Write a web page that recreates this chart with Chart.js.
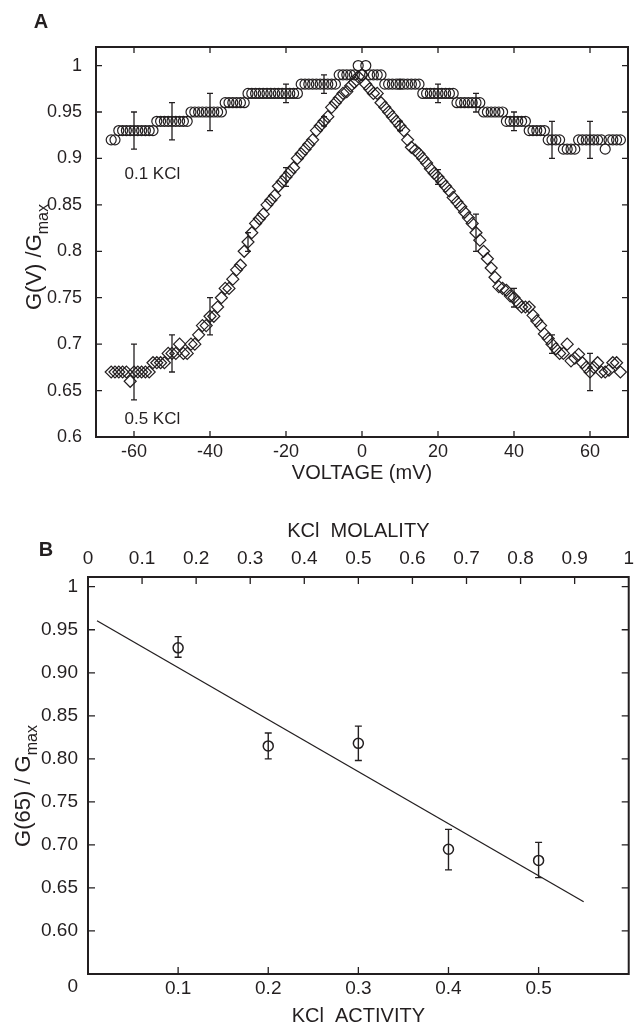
<!DOCTYPE html>
<html>
<head>
<meta charset="utf-8">
<script src="https://cdn.jsdelivr.net/npm/chart.js@4.4.0/dist/chart.umd.min.js"></script>
<style>
    html, body { margin: 0; padding: 0; background: #fff; }
    #wrap { position: relative; width: 641px; height: 1026px; }
    #chartA { position: absolute; left: 0; top: 0; width: 641px; height: 500px; }
    #chartB { position: absolute; left: 0; top: 500px; width: 641px; height: 526px; }
</style>
</head>
<body>
<div id="wrap">
    <canvas id="chartA" width="641" height="500"></canvas>
    <canvas id="chartB" width="641" height="526"></canvas>
</div>
<script>
// ---- Panel A: G(V)/Gmax against voltage ----
const voltage = [
    -66, -65, -64, -63, -62, -61, -60, -59, -58, -57, -56, -55, -54, -53, -52, -51, -50,
    -49, -48, -47, -46, -45, -44, -43, -42, -41, -40, -39, -38, -37, -36, -35, -34,
    -33, -32, -31, -30, -29, -28, -27, -26, -25, -24, -23, -22, -21, -20, -19, -18,
    -17, -16, -15, -14, -13, -12, -11, -10, -9, -8, -7, -6, -5, -4, -3, -2, -1,
    0, 1, 2, 3, 4, 5, 6, 7, 8, 9, 10, 11, 12, 13, 14, 15, 16, 17, 18, 19, 20,
    21, 22, 23, 24, 25, 26, 27, 28, 29, 30, 31, 32, 33, 34, 35, 36, 37, 38, 39, 40,
    41, 42, 43, 44, 45, 46, 47, 48, 49, 50, 51, 52, 53, 54, 55, 56, 57, 58, 59, 60,
    61, 62, 63, 64, 65, 66, 67, 68
];
// 0.1 KCl (circles)
const g01 = [
    0.92, 0.92,
    0.93, 0.93, 0.93, 0.93, 0.93, 0.93, 0.93, 0.93, 0.93, 0.93,
    0.94, 0.94, 0.94, 0.94, 0.94, 0.94, 0.94, 0.94, 0.94,
    0.95, 0.95, 0.95, 0.95, 0.95, 0.95, 0.95, 0.95, 0.95,
    0.96, 0.96, 0.96, 0.96, 0.96, 0.96,
    0.97, 0.97, 0.97, 0.97, 0.97, 0.97, 0.97, 0.97, 0.97, 0.97, 0.97, 0.97, 0.97, 0.97,
    0.98, 0.98, 0.98, 0.98, 0.98, 0.98, 0.98, 0.98, 0.98, 0.98,
    0.99, 0.99, 0.99, 0.99, 0.99,
    1.00, 0.99, 1.00,
    0.99, 0.99, 0.99, 0.99,
    0.98, 0.98, 0.98, 0.98, 0.98, 0.98, 0.98, 0.98, 0.98, 0.98,
    0.97, 0.97, 0.97, 0.97, 0.97, 0.97, 0.97, 0.97, 0.97,
    0.96, 0.96, 0.96, 0.96, 0.96, 0.96, 0.96,
    0.95, 0.95, 0.95, 0.95, 0.95, 0.95,
    0.94, 0.94, 0.94, 0.94, 0.94, 0.94,
    0.93, 0.93, 0.93, 0.93, 0.93,
    0.92, 0.92, 0.92, 0.92,
    0.91, 0.91, 0.91, 0.91,
    0.92, 0.92, 0.92, 0.92, 0.92, 0.92, 0.92,
    0.91,
    0.92, 0.92, 0.92, 0.92
];
// 0.5 KCl (diamonds)
const g05 = [
    0.67, 0.67, 0.67, 0.67, 0.67, 0.66, 0.67, 0.67, 0.67, 0.67, 0.67,
    0.68, 0.68, 0.68, 0.68,
    0.69, 0.69, 0.69, 0.70, 0.69, 0.69, 0.70, 0.70, 0.71, 0.72, 0.72,
    0.73, 0.73, 0.74, 0.75, 0.76, 0.76, 0.77, 0.78, 0.785, 0.80,
    0.81, 0.82, 0.83, 0.835, 0.84, 0.85, 0.855, 0.86, 0.87, 0.875,
    0.88, 0.885, 0.89, 0.90, 0.905, 0.91, 0.915, 0.92, 0.93, 0.935,
    0.94, 0.945, 0.955, 0.96, 0.965, 0.97, 0.972, 0.978, 0.982, 0.988,
    0.99,
    0.98, 0.975, 0.97, 0.97, 0.96, 0.955, 0.95, 0.945, 0.94, 0.935,
    0.93, 0.92, 0.912, 0.909, 0.905, 0.90, 0.895, 0.889, 0.884, 0.88,
    0.875, 0.87, 0.865, 0.858, 0.853, 0.848, 0.842, 0.836, 0.83, 0.82,
    0.812, 0.80, 0.792, 0.782, 0.772, 0.762, 0.76, 0.758, 0.752, 0.75,
    0.745, 0.74, 0.74, 0.74, 0.731, 0.725, 0.72, 0.711, 0.706, 0.70,
    0.695, 0.69, 0.69, 0.70, 0.682, 0.685, 0.689, 0.68, 0.675, 0.67,
    0.675, 0.68, 0.67, 0.67, 0.672, 0.68, 0.68, 0.67
];
const errV01 = [-60, -50, -40, -20, -10, 10, 20, 30, 40, 50, 60];
const err01 = [0.02, 0.02, 0.02, 0.01, 0.01, 0.005, 0.01, 0.01, 0.01, 0.02, 0.02];
const errV05 = [-60, -50, -40, -30, -20, -10, 10, 20, 30, 40, 50, 60];
const err05 = [0.03, 0.02, 0.02, 0.01, 0.01, 0.005, 0.005, 0.008, 0.02, 0.01, 0.01, 0.02];
const xTicksA = [-60, -40, -20, 0, 20, 40, 60];
const yTicksA = [0.6, 0.65, 0.7, 0.75, 0.8, 0.85, 0.9, 0.95, 1];

// ---- Panel B: G(65)/Gmax against KCl activity ----
const activity = [0.1, 0.2, 0.3, 0.4, 0.5];
const g65 = [0.929, 0.815, 0.818, 0.695, 0.682];
const g65Hi = [0.942, 0.830, 0.838, 0.718, 0.703];
const g65Lo = [0.918, 0.800, 0.798, 0.671, 0.662];
const fitX = [0.01, 0.55];
const fitY = [0.9605, 0.634];
const xTicksB = [0.1, 0.2, 0.3, 0.4, 0.5];
const molalityTicks = [0, 0.1, 0.2, 0.3, 0.4, 0.5, 0.6, 0.7, 0.8, 0.9, 1];
const yTicksB = [0.6, 0.65, 0.7, 0.75, 0.8, 0.85, 0.9, 0.95, 1];

const FONT = '"Liberation Sans", Arial, Helvetica, sans-serif';
const INK = '#231f20';

function setTicks(arr) {
    return function(scale) { scale.ticks = arr.map(v => ({ value: v })); };
}

// box + inward ticks
function drawFrame(chart, o) {
    const ctx = chart.ctx, a = chart.chartArea;
    ctx.save();
    ctx.strokeStyle = INK;
    ctx.lineWidth = 2;
    ctx.strokeRect(a.left, a.top, a.right - a.left, a.bottom - a.top);
    ctx.lineWidth = 1.3;
    ctx.beginPath();
    o.bottom.forEach(v => {
        const x = chart.scales.x.getPixelForValue(v);
        ctx.moveTo(x, a.bottom); ctx.lineTo(x, a.bottom - o.len);
    });
    o.top.forEach(v => {
        const x = chart.scales[o.topAxis].getPixelForValue(v);
        ctx.moveTo(x, a.top); ctx.lineTo(x, a.top + o.len);
    });
    o.side.forEach(v => {
        const y = chart.scales.y.getPixelForValue(v);
        ctx.moveTo(a.left, y); ctx.lineTo(a.left + o.len, y);
        ctx.moveTo(a.right, y); ctx.lineTo(a.right - o.len, y);
    });
    ctx.stroke();
    ctx.restore();
}

function errBar(chart, xv, lo, hi, cap) {
    const ctx = chart.ctx;
    const x = chart.scales.x.getPixelForValue(xv);
    const y1 = chart.scales.y.getPixelForValue(lo);
    const y2 = chart.scales.y.getPixelForValue(hi);
    ctx.moveTo(x, y1); ctx.lineTo(x, y2);
    ctx.moveTo(x - cap, y1); ctx.lineTo(x + cap, y1);
    ctx.moveTo(x - cap, y2); ctx.lineTo(x + cap, y2);
}

function yTitle(ctx, cx, cy, main, sub, size, subSize) {
    ctx.save();
    ctx.translate(cx, cy);
    ctx.rotate(-Math.PI / 2);
    ctx.fillStyle = INK;
    ctx.textAlign = 'left';
    ctx.textBaseline = 'alphabetic';
    ctx.font = size + 'px ' + FONT;
    const w1 = ctx.measureText(main).width;
    ctx.font = subSize + 'px ' + FONT;
    const w2 = ctx.measureText(sub).width;
    const x0 = -(w1 + w2) / 2;
    ctx.font = size + 'px ' + FONT;
    ctx.fillText(main, x0, size * 0.36);
    ctx.font = subSize + 'px ' + FONT;
    ctx.fillText(sub, x0 + w1, size * 0.36 + size * 0.3);
    ctx.restore();
}

function label(ctx, text, x, y, font, align) {
    ctx.save();
    ctx.fillStyle = INK;
    ctx.font = font;
    ctx.textAlign = align || 'left';
    ctx.textBaseline = 'middle';
    ctx.fillText(text, x, y);
    ctx.restore();
}

const decorA = {
    id: 'decorA',
    afterDatasetsDraw(chart) {
        const ctx = chart.ctx;
        drawFrame(chart, { bottom: xTicksA, top: xTicksA, topAxis: 'x', side: yTicksA, len: 6 });
        ctx.save();
        ctx.strokeStyle = INK;
        ctx.lineWidth = 1.3;
        ctx.beginPath();
        errV01.forEach((v, i) => {
            const g = g01[voltage.indexOf(v)];
            errBar(chart, v, g - err01[i], g + err01[i], 3);
        });
        errV05.forEach((v, i) => {
            const g = g05[voltage.indexOf(v)];
            errBar(chart, v, g - err05[i], g + err05[i], 3);
        });
        ctx.stroke();
        ctx.restore();

        const xs = chart.scales.x, ys = chart.scales.y;
        label(ctx, '0.1 KCl', xs.getPixelForValue(-62.5), ys.getPixelForValue(0.883), '17px ' + FONT);
        label(ctx, '0.5 KCl', xs.getPixelForValue(-62.5), ys.getPixelForValue(0.6195), '17px ' + FONT);
        label(ctx, 'A', 41, 22, 'bold 20px ' + FONT, 'center');
        yTitle(ctx, 33, 257, 'G(V) /G', 'max', 22, 16);
    }
};

const decorB = {
    id: 'decorB',
    afterDatasetsDraw(chart) {
        const ctx = chart.ctx;
        drawFrame(chart, { bottom: xTicksB, top: molalityTicks.slice(1, -1), topAxis: 'x2', side: yTicksB, len: 7 });
        ctx.save();
        ctx.strokeStyle = INK;
        ctx.lineWidth = 1.4;
        ctx.beginPath();
        activity.forEach((a, i) => errBar(chart, a, g65Lo[i], g65Hi[i], 3.5));
        ctx.stroke();
        ctx.restore();

        const ys = chart.scales.y;
        label(ctx, '0', 78, ys.getPixelForValue(0.55) + 13, '19px ' + FONT, 'right');
        label(ctx, 'B', 46, 50, 'bold 20px ' + FONT, 'center');
        yTitle(ctx, 22, 286, 'G(65) / G', 'max', 22, 16);
    }
};

// Panel A chart
new Chart(document.getElementById('chartA'), {
    type: 'scatter',
    data: {
        datasets: [{
            label: '0.1 KCl',
            data: voltage.map((v, i) => ({ x: v, y: g01[i] })),
            pointStyle: 'circle',
            pointRadius: 5,
            borderWidth: 1.2,
            borderColor: INK,
            backgroundColor: 'rgba(0,0,0,0)'
        }, {
            label: '0.5 KCl',
            data: voltage.map((v, i) => ({ x: v, y: g05[i] })),
            pointStyle: 'rectRot',
            pointRadius: 6,
            borderWidth: 1.2,
            borderColor: INK,
            backgroundColor: 'rgba(0,0,0,0)'
        }]
    },
    options: {
        responsive: false,
        animation: false,
        devicePixelRatio: 1,
        layout: { padding: { left: 0, right: 13, top: 47, bottom: 0 } },
        plugins: { legend: { display: false }, tooltip: { enabled: false } },
        scales: {
            x: {
                type: 'linear',
                min: -70,
                max: 70,
                grid: { display: false, drawTicks: false },
                border: { display: false },
                afterBuildTicks: setTicks(xTicksA),
                afterFit: s => { s.height = 63; },
                ticks: {
                    autoSkip: false, maxRotation: 0, padding: 4, color: INK,
                    font: { family: FONT, size: 18 },
                    callback: v => String(v)
                },
                title: {
                    display: true, text: 'VOLTAGE (mV)', color: INK,
                    font: { family: FONT, size: 20, lineHeight: 1 },
                    padding: { top: 0, bottom: 17 }
                }
            },
            y: {
                type: 'linear',
                min: 0.6,
                max: 1.02,
                grid: { display: false, drawTicks: false },
                border: { display: false },
                afterBuildTicks: setTicks(yTicksA),
                afterFit: s => { s.width = 96; },
                ticks: {
                    autoSkip: false, padding: 14, color: INK,
                    font: { family: FONT, size: 18 },
                    callback: v => String(+v.toFixed(2))
                }
            }
        }
    },
    plugins: [decorA]
});

// Panel B chart
new Chart(document.getElementById('chartB'), {
    type: 'scatter',
    data: {
        datasets: [{
            label: 'fit',
            data: fitX.map((x, i) => ({ x: x, y: fitY[i] })),
            showLine: true,
            pointRadius: 0,
            borderWidth: 1.3,
            borderColor: INK
        }, {
            label: 'G(65)',
            data: activity.map((a, i) => ({ x: a, y: g65[i] })),
            pointStyle: 'circle',
            pointRadius: 5,
            borderWidth: 1.5,
            borderColor: INK,
            backgroundColor: 'rgba(0,0,0,0)'
        }]
    },
    options: {
        responsive: false,
        animation: false,
        devicePixelRatio: 1,
        layout: { padding: { left: 0, right: 3, top: 0, bottom: 0 } },
        plugins: { legend: { display: false }, tooltip: { enabled: false } },
        scales: {
            x: {
                type: 'linear',
                position: 'bottom',
                min: 0,
                max: 0.6,
                grid: { display: false, drawTicks: false },
                border: { display: false },
                afterBuildTicks: setTicks(xTicksB),
                afterFit: s => { s.height = 52; },
                ticks: {
                    autoSkip: false, maxRotation: 0, padding: 3, color: INK,
                    font: { family: FONT, size: 19 },
                    callback: v => v.toFixed(1)
                },
                title: {
                    display: true, text: 'KCl  ACTIVITY', color: INK,
                    font: { family: FONT, size: 20, lineHeight: 1 },
                    padding: { top: 0, bottom: 0 }
                }
            },
            x2: {
                type: 'linear',
                axis: 'x',
                position: 'top',
                min: 0,
                max: 1,
                grid: { display: false, drawTicks: false },
                border: { display: false },
                afterBuildTicks: setTicks(molalityTicks),
                afterFit: s => { s.height = 77; },
                ticks: {
                    autoSkip: false, maxRotation: 0, padding: 7, color: INK,
                    font: { family: FONT, size: 19 },
                    callback: v => (v === 0 || v === 1) ? String(v) : v.toFixed(1)
                },
                title: {
                    display: true, text: 'KCl  MOLALITY', color: INK,
                    font: { family: FONT, size: 20, lineHeight: 1 },
                    padding: { top: 21, bottom: 0 }
                }
            },
            y: {
                type: 'linear',
                min: 0.55,
                max: 1.0113,
                grid: { display: false, drawTicks: false },
                border: { display: false },
                afterBuildTicks: setTicks(yTicksB),
                afterFit: s => { s.width = 88; },
                ticks: {
                    autoSkip: false, padding: 10, color: INK,
                    font: { family: FONT, size: 19 },
                    callback: v => v === 1 ? '1' : v.toFixed(2)
                }
            }
        }
    },
    plugins: [decorB]
});
</script>
</body>
</html>
